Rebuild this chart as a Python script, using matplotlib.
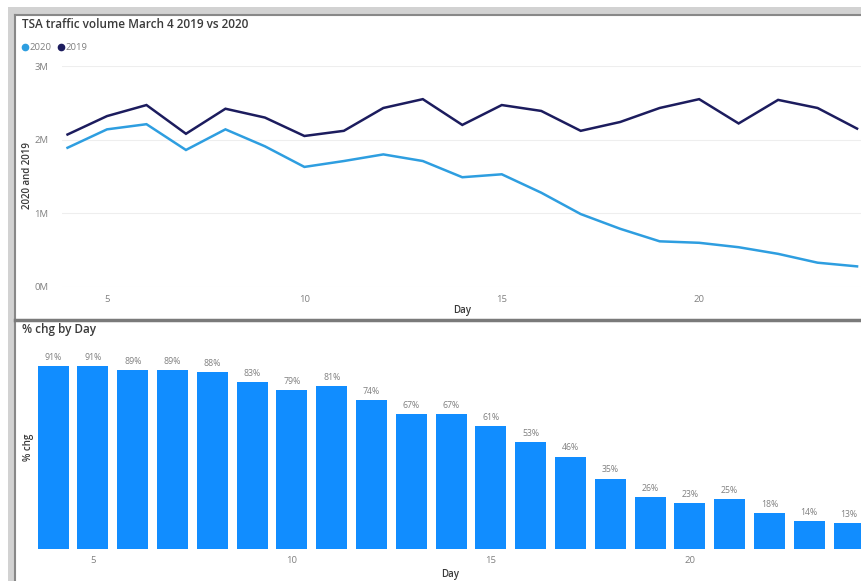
import matplotlib
matplotlib.use("Agg")
import matplotlib.pyplot as plt
from matplotlib.patches import Rectangle
from matplotlib.lines import Line2D
from matplotlib.ticker import FuncFormatter

plt.rcParams['font.family'] = ['Open Sans', 'DejaVu Sans']

# data
days = list(range(4, 25))
vol_2020 = [1.89, 2.14, 2.21, 1.86, 2.14, 1.91, 1.63, 1.71, 1.80, 1.71, 1.49,
            1.53, 1.28, 0.99, 0.79, 0.62, 0.60, 0.54, 0.45, 0.33, 0.28]  # millions
vol_2019 = [2.07, 2.32, 2.47, 2.08, 2.42, 2.30, 2.05, 2.12, 2.43, 2.55, 2.20,
            2.47, 2.39, 2.12, 2.24, 2.43, 2.55, 2.22, 2.54, 2.43, 2.15]  # millions
pct_chg = [91, 91, 89, 89, 88, 83, 79, 81, 74, 67, 67,
           61, 53, 46, 35, 26, 23, 25, 18, 14, 13]
y_ticks = [0, 1, 2, 3]
x_ticks = [5, 10, 15, 20]

W, H = 861, 581
fig = plt.figure(figsize=(W / 100, H / 100), dpi=100)
fig.patch.set_facecolor('white')

def box(x0, y0, x1, y1):
    # pixel box (top-left origin) -> figure fraction rect
    return [x0 / W, 1 - y1 / H, (x1 - x0) / W, (y1 - y0) / H]

# ---- frame from the screenshot ----
fig.add_artist(Rectangle((8 / W, 1 - 16 / H), 1, 9 / H, transform=fig.transFigure,
                         color='#d2d2d2', lw=0))
fig.add_artist(Rectangle((8 / W, 0), 8 / W, 1 - 7 / H, transform=fig.transFigure,
                         color='#d2d2d2', lw=0))
fig.add_artist(Line2D([15 / W, 1], [1 - 15 / H] * 2, transform=fig.transFigure,
                      color='#888888', lw=1.5))
fig.add_artist(Line2D([15 / W] * 2, [0, 1 - 15 / H], transform=fig.transFigure,
                      color='#888888', lw=1.5))
fig.add_artist(Line2D([15 / W, 1], [1 - 320 / H] * 2, transform=fig.transFigure,
                      color='#7a7a7a', lw=2.5))

grey = '#808080'
dark = '#3a3a3a'

# ---- top: line chart ----
ax1 = fig.add_axes(box(62, 66, 861, 287))
ax1.plot(days, vol_2020, color='#2e9ee0', lw=1.8, solid_joinstyle='miter')
ax1.plot(days, vol_2019, color='#1c1c5e', lw=1.8, solid_joinstyle='miter')
ax1.set_xlim(3.86, 24.1)
ax1.set_ylim(0, 3)
ax1.set_yticks(y_ticks)
ax1.yaxis.set_major_formatter(FuncFormatter(lambda v, p: f'{int(v)}M'))
ax1.set_xticks(x_ticks)
ax1.grid(axis='y', color='#eeeeee', lw=0.8)
ax1.set_axisbelow(True)
for s in ax1.spines.values():
    s.set_visible(False)
ax1.tick_params(length=0, labelsize=6.8, labelcolor=grey)
ax1.tick_params(axis='y', pad=10)
ax1.tick_params(axis='x', pad=6)
ax1.set_facecolor('none')

fig.text(22 / W, 1 - 25 / H, 'TSA traffic volume March 4 2019 vs 2020',
         fontsize=8.5, color=dark, va='center', ha='left', fontweight='semibold')
fig.text(28 / W, 1 - 176 / H, '2020 and 2019', rotation=90, fontsize=7,
         color=dark, va='center', ha='center', fontweight='semibold')
fig.text(462 / W, 1 - 311 / H, 'Day', fontsize=7, color=dark,
         va='center', ha='center', fontweight='semibold')

# legend
fig.add_artist(Line2D([25 / W], [1 - 47 / H], marker='o', ms=4.5, color='#2e9ee0',
                      transform=fig.transFigure, lw=0))
fig.text(29 / W, 1 - 47 / H, '2020', fontsize=6.8, color=grey, va='center')
fig.add_artist(Line2D([61 / W], [1 - 47 / H], marker='o', ms=4.5, color='#1c1c5e',
                      transform=fig.transFigure, lw=0))
fig.text(65 / W, 1 - 47 / H, '2019', fontsize=6.8, color=grey, va='center')

# ---- bottom: bar chart ----
ax2 = fig.add_axes(box(38, 348, 861, 549))
ax2.bar(days, pct_chg, width=0.78, color='#118dff')
ax2.set_xlim(3.62, 24.3)
ax2.set_ylim(0, 100)
ax2.set_yticks([])
ax2.set_xticks(x_ticks)
for s in ax2.spines.values():
    s.set_visible(False)
ax2.tick_params(length=0, labelsize=6.8, labelcolor=grey, pad=5)
ax2.set_facecolor('none')
for d, v in zip(days, pct_chg):
    ax2.annotate(f'{v}%', (d, v), xytext=(0, 3), textcoords='offset points',
                 ha='center', va='bottom', fontsize=6.3, color=grey)

fig.text(22 / W, 1 - 329 / H, '% chg by Day', fontsize=8.5, color=dark,
         va='center', ha='left', fontweight='semibold')
fig.text(28 / W, 1 - 447 / H, '% chg', rotation=90, fontsize=7,
         color=dark, va='center', ha='center', fontweight='semibold')
fig.text(450 / W, 1 - 574 / H, 'Day', fontsize=7, color=dark,
         va='center', ha='center', fontweight='semibold')

fig.savefig('out.png', dpi=100)
